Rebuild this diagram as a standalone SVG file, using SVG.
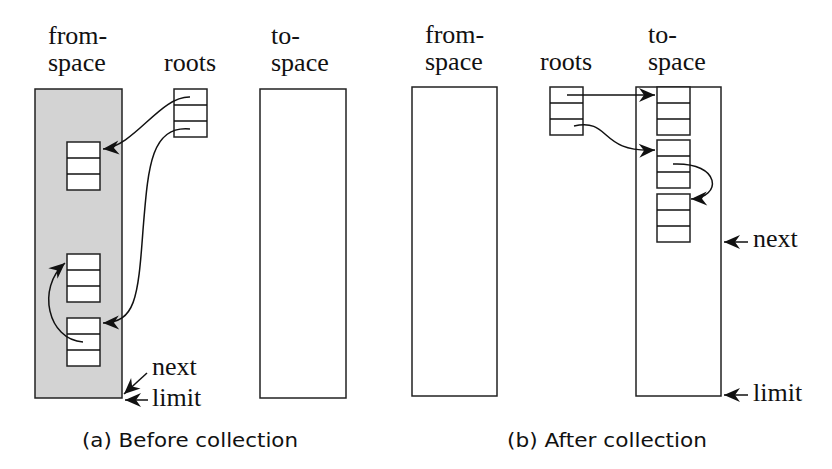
<svg xmlns="http://www.w3.org/2000/svg" width="832" height="469" viewBox="0 0 832 469">
<style>
.lbl{font-family:"Liberation Serif","Times New Roman",serif;font-size:26px;fill:#111}
.cap{font-family:"DejaVu Sans","Open Sans",sans-serif;font-size:20px;fill:#111}
.box{fill:#fff;stroke:#222;stroke-width:1.5}
.space{stroke:#222;stroke-width:1.5}
.ln{fill:none;stroke:#111;stroke-width:1.4}
.arr{fill:none;stroke:#111;stroke-width:1.5;marker-end:url(#ah)}
</style>
<defs>
<marker id="ah" markerUnits="userSpaceOnUse" markerWidth="20" markerHeight="18" viewBox="-18 -9 20 18" refX="0" refY="0" orient="auto">
<path d="M0,0 L-16,-7 L-11,0 L-16,7 Z" fill="#111"/>
</marker>
<g id="obj">
<rect class="box" x="0" y="0" width="33" height="48"/>
<line class="ln" x1="0" y1="16" x2="33" y2="16"/>
<line class="ln" x1="0" y1="32" x2="33" y2="32"/>
</g>
</defs>
<rect width="832" height="469" fill="#fff"/>

<!-- (a) -->
<g id="a-labels">
<text class="lbl" x="48" y="44">from-</text>
<text class="lbl" x="48" y="71">space</text>
<text class="lbl" x="164" y="71">roots</text>
<text class="lbl" x="271" y="44">to-</text>
<text class="lbl" x="271" y="71">space</text>
</g>
<g id="a-fromspace"><rect class="space" x="35" y="89" width="87" height="309" fill="#d3d3d3"/></g>
<g id="a-tospace"><rect class="space" x="260" y="89" width="86" height="309" fill="#fff"/></g>
<g id="a-roots"><use href="#obj" x="174" y="89"/></g>
<g id="a-obj1"><use href="#obj" x="67" y="142"/></g>
<g id="a-obj2"><use href="#obj" x="67" y="254"/></g>
<g id="a-obj3"><use href="#obj" x="67" y="318"/></g>
<g id="a-next"><text class="lbl" x="152" y="375">next</text></g>
<g id="a-limit"><text class="lbl" x="152" y="406">limit</text></g>
<text class="cap" x="82" y="447" textLength="216" lengthAdjust="spacingAndGlyphs">(a) Before collection</text>

<!-- (b) -->
<g id="b-labels">
<text class="lbl" x="425" y="43">from-</text>
<text class="lbl" x="425" y="70">space</text>
<text class="lbl" x="540" y="70">roots</text>
<text class="lbl" x="648" y="43">to-</text>
<text class="lbl" x="648" y="70">space</text>
</g>
<g id="b-fromspace"><rect class="space" x="412" y="87" width="85" height="309" fill="#fff"/></g>
<g id="b-tospace"><rect class="space" x="636" y="87" width="85" height="309" fill="#fff"/></g>
<g id="b-roots"><use href="#obj" x="550" y="87"/></g>
<g id="b-obj1"><use href="#obj" x="657" y="87"/></g>
<g id="b-obj2"><use href="#obj" x="657" y="140"/></g>
<g id="b-obj3"><use href="#obj" x="657" y="194"/></g>
<g id="b-next"><text class="lbl" x="753" y="247">next</text></g>
<g id="b-limit"><text class="lbl" x="753" y="401">limit</text></g>
<text class="cap" x="507" y="447" textLength="200" lengthAdjust="spacingAndGlyphs">(b) After collection</text>

<g id="connectors">
<path class="arr" d="M190,97 C160,96 135,146 103,149"/>
<path class="arr" d="M190,129 C150,125 148,170 143,230 C138,300 135,322 103,323"/>
<path class="arr" d="M83,342 C48,340 36,288 65,263"/>
<path class="arr" d="M147,373 L124,394"/>
<path class="arr" d="M148,400 L125,400"/>
<path class="arr" d="M567,95 L655,95"/>
<path class="arr" d="M574,126 C612,118 598,153 655,150"/>
<path class="arr" d="M673,164 C722,162 722,198 691,199"/>
<path class="arr" d="M748,242 L724,242"/>
<path class="arr" d="M748,395 L724,395"/>
</g>
</svg>
